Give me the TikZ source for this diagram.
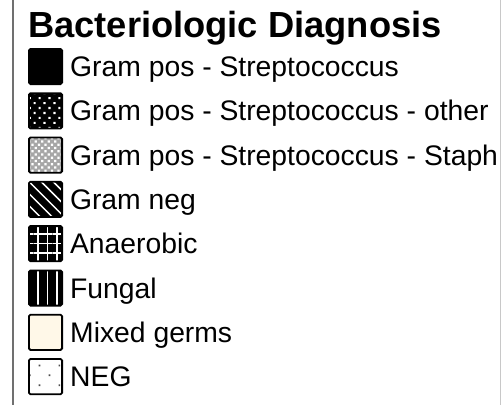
\documentclass[tikz,border=0pt]{standalone}
\usepackage{fontspec}
\setmainfont{Liberation Sans}
\usetikzlibrary{positioning,patterns.meta}

\definecolor{cream}{HTML}{FFF8E8}
\definecolor{frameleft}{HTML}{707070}
\definecolor{frameright}{HTML}{C8C8C8}

\begin{document}
\begin{tikzpicture}[
    x=1pt, y=1pt,
    swatch/.style={draw=black, line width=1.8pt, rounded corners=1.5pt,
        minimum width=33.2pt, minimum height=35.2pt, inner sep=0pt},
    onblack/.style={preaction={fill=black}, pattern color=white, pattern={#1}},
    lbl/.style={font=\fontsize{28.3}{30}\selectfont, inner sep=0pt,
        text height=20pt, text depth=0pt, right=7pt of #1}
]

    % Page and frame
    \useasboundingbox (0,0) rectangle (501,-405);
    \coordinate (FL1) at (13,0);
    \coordinate (FL2) at (13,-405);
    \coordinate (FR1) at (500.5,0);
    \coordinate (FR2) at (500.5,-405);
    \draw[frameleft, line width=2pt] (FL1) -- (FL2);
    \draw[frameright, line width=1pt] (FR1) -- (FR2);

    % Title
    \node[anchor=base west, inner sep=0pt, font=\bfseries\fontsize{36.3}{40}\selectfont]
        (title) at (28,-37) {Bacteriologic Diagnosis};

    % Swatches
    \node[swatch, fill=black] (s1) at (45.5,-66.5) {};
    \node[swatch, onblack={Dots[distance=7pt, radius=1.5pt, angle=45]}] (s2) at (45.5,-110.8) {};
    \node[swatch, preaction={fill=black!35}, pattern color=white,
        pattern={Dots[distance=4.6pt, radius=1.5pt, angle=45]}] (s3) at (45.5,-155.1) {};
    \node[swatch, onblack={Lines[angle=-45, distance=8.5pt, line width=1.5pt]}] (s4) at (45.5,-199.4) {};
    \node[swatch, onblack={Hatch[angle=0, distance=9.5pt, line width=1.6pt]}] (s5) at (45.5,-243.7) {};
    \node[swatch, onblack={Lines[angle=90, distance=9.5pt, line width=1.6pt]}] (s6) at (45.5,-288) {};
    \node[swatch, fill=cream] (s7) at (45.5,-332.3) {};
    \node[swatch, fill=white, pattern color=black!70,
        pattern={Dots[distance=14pt, radius=1.2pt, angle=45]}] (s8) at (45.5,-376.6) {};

    % Labels
    \node[lbl=s1] (l1) {Gram pos - Streptococcus};
    \node[lbl=s2] (l2) {Gram pos - Streptococcus - other};
    \node[lbl=s3] (l3) {Gram pos - Streptococcus - Staph};
    \node[lbl=s4] (l4) {Gram neg};
    \node[lbl=s5] (l5) {Anaerobic};
    \node[lbl=s6] (l6) {Fungal};
    \node[lbl=s7] (l7) {Mixed germs};
    \node[lbl=s8] (l8) {NEG};

\end{tikzpicture}
\end{document}
